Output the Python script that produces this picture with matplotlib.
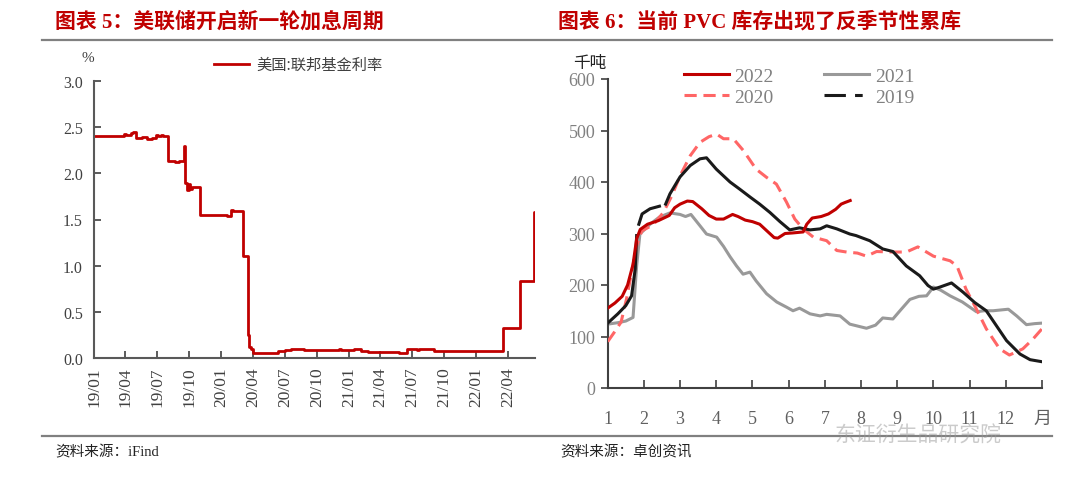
import matplotlib
matplotlib.use('Agg')
import matplotlib.pyplot as plt
from matplotlib.lines import Line2D
import numpy as np
import pandas as pd

plt.rcParams['font.family'] = ['Liberation Serif', 'Noto Sans CJK SC']

# 美国:联邦基金利率 (step changes)
fed_dates = ['2019-01-02', '2019-03-28', '2019-04-02', '2019-04-18', '2019-04-24',
             '2019-05-02', '2019-05-20', '2019-06-03', '2019-06-17', '2019-06-28',
             '2019-07-03', '2019-07-12', '2019-07-18', '2019-08-01', '2019-08-20',
             '2019-09-03', '2019-09-16', '2019-09-17', '2019-09-18', '2019-09-19',
             '2019-09-24', '2019-10-01', '2019-10-04', '2019-10-10', '2019-10-31',
             '2019-11-01', '2020-01-16', '2020-01-30', '2020-02-03', '2020-03-04',
             '2020-03-16', '2020-03-20', '2020-03-26', '2020-04-01', '2020-06-10',
             '2020-07-01', '2020-07-20', '2020-08-25', '2020-10-01', '2020-12-03',
             '2020-12-10', '2021-01-15', '2021-02-05', '2021-02-25', '2021-04-20',
             '2021-05-25', '2021-06-17', '2021-07-15', '2021-07-20', '2021-09-01',
             '2022-03-17', '2022-05-05', '2022-06-16', '2022-06-17']
fed_rate = [2.40, 2.43, 2.41, 2.44, 2.45,
            2.38, 2.39, 2.37, 2.38, 2.42,
            2.40, 2.41, 2.40, 2.13, 2.12,
            2.13, 2.25, 2.30, 2.25, 1.90,
            1.82, 1.88, 1.83, 1.85, 1.58,
            1.55, 1.54, 1.60, 1.59, 1.10,
            0.25, 0.12, 0.10, 0.05, 0.08,
            0.09, 0.10, 0.09, 0.09, 0.10,
            0.09, 0.10, 0.08, 0.07, 0.06,
            0.05, 0.10, 0.09, 0.10, 0.08,
            0.33, 0.83, 1.58, 1.58]

# PVC 库存 (千吨), x = 月份
m2022 = [1.0, 1.2, 1.4, 1.55, 1.7, 1.8, 1.9, 2.1, 2.4, 2.7, 2.85, 3.0, 3.2, 3.35, 3.6,
         3.8, 4.0, 4.2, 4.45, 4.6, 4.8, 5.0, 5.2, 5.4, 5.6, 5.7, 5.9, 6.1, 6.4, 6.5,
         6.65, 6.9, 7.1, 7.3, 7.45, 7.55, 7.7]
v2022 = [155, 165, 178, 200, 240, 290, 308, 318, 325, 335, 350, 357, 363, 362, 348,
         335, 328, 328, 337, 333, 326, 323, 318, 305, 292, 291, 300, 301, 303, 318,
         330, 333, 338, 347, 357, 360, 364]

m2021 = [1.0, 1.3, 1.5, 1.7, 1.8, 1.89, 2.17, 2.43, 2.72, 3.0, 3.15, 3.3, 3.55, 3.73,
         4.01, 4.2, 4.38, 4.56, 4.74, 4.93, 5.1, 5.39, 5.67, 5.94, 6.12, 6.3, 6.59,
         6.87, 7.05, 7.42, 7.69, 8.15, 8.4, 8.6, 8.88, 9.1, 9.35, 9.6, 9.81, 10.0,
         10.2, 10.46, 10.8, 11.19, 11.4, 11.65, 12.07, 12.3, 12.57, 12.8, 13.0]
v2021 = [124, 127, 130, 137, 237, 299, 318, 332, 340, 337, 333, 337, 315, 299,
         293, 275, 255, 237, 221, 225, 208, 183, 167, 157, 150, 155, 144,
         140, 143, 140, 124, 116, 122, 136, 134, 152, 172, 178, 179, 196,
         190, 179, 167, 148, 150, 150, 153, 140, 123, 125, 126]

m2020 = [1.0, 1.18, 1.37, 1.52, 1.66, 1.8, 1.94, 2.26, 2.54, 2.77, 3.0, 3.28, 3.55,
         3.8, 4.01, 4.2, 4.47, 4.75, 5.1, 5.39, 5.66, 5.94, 6.17, 6.4, 6.68, 7.05,
         7.33, 7.6, 7.9, 8.15, 8.43, 8.88, 9.25, 9.57, 10.0, 10.46, 10.65, 10.9,
         11.19, 11.46, 11.83, 12.1, 12.47, 12.75, 13.0]
v2020 = [90, 108, 128, 173, 225, 276, 305, 317, 341, 373, 412, 451, 477,
         488, 493, 484, 484, 461, 425, 409, 396, 361, 328, 309, 293, 286,
         267, 264, 262, 256, 265, 264, 264, 274, 256, 247, 237, 192,
         153, 115, 76, 64, 76, 95, 115]

m2019 = [1.0, 1.28, 1.5, 1.66, 1.76, 1.8, 1.83, 1.86, 1.95, 2.17, 2.43, 2.5, 2.6,
         2.72, 3.0, 3.28, 3.55, 3.73, 4.0, 4.38, 4.65, 4.93, 5.2, 5.48, 5.76, 6.03,
         6.3, 6.59, 6.87, 7.05, 7.33, 7.69, 7.86, 8.24, 8.6, 8.88, 9.25, 9.62, 9.85,
         10.0, 10.18, 10.5, 10.82, 11.14, 11.46, 11.74, 12.02, 12.39, 12.67, 13.0]
v2019 = [126, 144, 160, 179, 231, 296, np.nan, 318, 338, 348, 353, np.nan, 357,
         377, 410, 432, 445, 447, 425, 400, 386, 371, 357, 341, 323, 307,
         311, 307, 309, 315, 309, 299, 296, 286, 270, 265, 237, 218, 199,
         192, 196, 204, 186, 166, 150, 121, 92, 66, 55, 51]

month_labels = ['1', '2', '3', '4', '5', '6', '7', '8', '9', '10', '11', '12', '月']


def fx(px):
    return px / 1080


def fy(py):
    return 1 - py / 481


fig = plt.figure(figsize=(10.8, 4.81), dpi=100)

# header / footer rules
for yy in (41, 437):
    fig.add_artist(Line2D([fx(42), fx(1052)], [fy(yy), fy(yy)], color='#808080', lw=1.6))

fig.text(fx(55), fy(22), '图表 5：美联储开启新一轮加息周期', color='#c00000',
         fontsize=15, fontweight='bold', va='center', ha='left')
fig.text(fx(558), fy(22), '图表 6：当前 PVC 库存出现了反季节性累库', color='#c00000',
         fontsize=15, fontweight='bold', va='center', ha='left')
fig.text(fx(55), fy(452), '资料来源：iFind', fontsize=10.5, color='#222222', va='center')
fig.text(fx(560), fy(452), '资料来源：卓创资讯', fontsize=10.5, color='#222222', va='center')
fig.text(fx(835), fy(437), '东证衍生品研究院', fontsize=15, color='#999999', alpha=0.5,
         va='center', ha='left')

# ---- left chart ----
ax1 = fig.add_axes([fx(94), fy(359), fx(535) - fx(94), fy(82) - fy(359)])
ax1.plot(pd.to_datetime(fed_dates), fed_rate, drawstyle='steps-post', color='#c00000',
         lw=2.0, label='美国:联邦基金利率')
ax1.set_xlim(pd.Timestamp('2019-01-01'), pd.Timestamp('2022-06-18'))
ax1.set_ylim(0, 3.0)
ax1.set_yticks(np.arange(0, 3.01, 0.5))
ax1.set_yticklabels([f'{v:.1f}' for v in np.arange(0, 3.01, 0.5)])
qticks = pd.date_range('2019-01-01', '2022-04-01', freq='QS')
ax1.set_xticks(qticks)
ax1.set_xticklabels([d.strftime('%y/%m') for d in qticks], rotation=90)
ax1.tick_params(axis='both', direction='in', length=5, width=1.2, color='#404040',
                labelcolor='#404040', labelsize=11.5)
ax1.tick_params(axis='x', pad=6, labelsize=12.5)
ax1.tick_params(axis='y', pad=8)
for s in ('top', 'right'):
    ax1.spines[s].set_visible(False)
for s in ('left', 'bottom'):
    ax1.spines[s].set_color('#595959')
    ax1.spines[s].set_linewidth(1.5)
fig.text(fx(88), fy(58), '%', fontsize=11, color='#404040', ha='center', va='center')
ax1.legend(loc='upper left', bbox_to_anchor=(fx(214), fy(57)),
           bbox_transform=fig.transFigure, frameon=False,
           borderpad=0, borderaxespad=0, handlelength=2.3, handletextpad=0.5,
           prop={'family': ['Noto Sans CJK SC'], 'size': 11}, labelcolor='#404040')

# ---- right chart ----
ax2 = fig.add_axes([fx(607.7), fy(389), fx(1042) - fx(607.7), fy(80) - fy(389)])
l22, = ax2.plot(m2022, v2022, color='#c00000', lw=2.2, zorder=5)
l21, = ax2.plot(m2021, v2021, color='#999999', lw=2.2, zorder=2)
l20, = ax2.plot(m2020, v2020, color='#ff6666', lw=2.2, ls=(0, (4, 2.2)), zorder=3)
l19, = ax2.plot(m2019, v2019, color='#1a1a1a', lw=2.2, zorder=4)
ax2.set_xlim(1, 13)
ax2.set_ylim(0, 600)
ax2.set_yticks(range(0, 601, 100))
ax2.set_xticks(range(1, 14))
ax2.set_xticklabels(month_labels)
ax2.tick_params(axis='y', direction='out', length=5, width=1.2, color='#404040',
                labelcolor='#808080', labelsize=13, pad=4)
ax2.tick_params(axis='x', direction='in', length=6, width=1.2, color='#404040',
                labelcolor='#606060', labelsize=13, pad=16)
for s in ('top', 'right'):
    ax2.spines[s].set_visible(False)
for s in ('left', 'bottom'):
    ax2.spines[s].set_color('#404040')
    ax2.spines[s].set_linewidth(1.5)
fig.text(fx(590), fy(64), '千吨', fontsize=12, color='#222222', ha='center', va='center')

h19 = Line2D([], [], color='#1a1a1a', lw=2.2, ls=(0, (7, 3, 2.5, 12)))
ax2.legend([l22, l20, l21, h19], ['2022', '2020', '2021', '2019'], ncol=2,
           loc='upper left', bbox_to_anchor=(fx(684), fy(68)),
           bbox_transform=fig.transFigure, frameon=False,
           borderpad=0, borderaxespad=0, handlelength=2.3, handletextpad=0.3,
           columnspacing=2.6, labelspacing=0.2, fontsize=14, labelcolor='#808080')

fig.savefig('out.png', dpi=100)
